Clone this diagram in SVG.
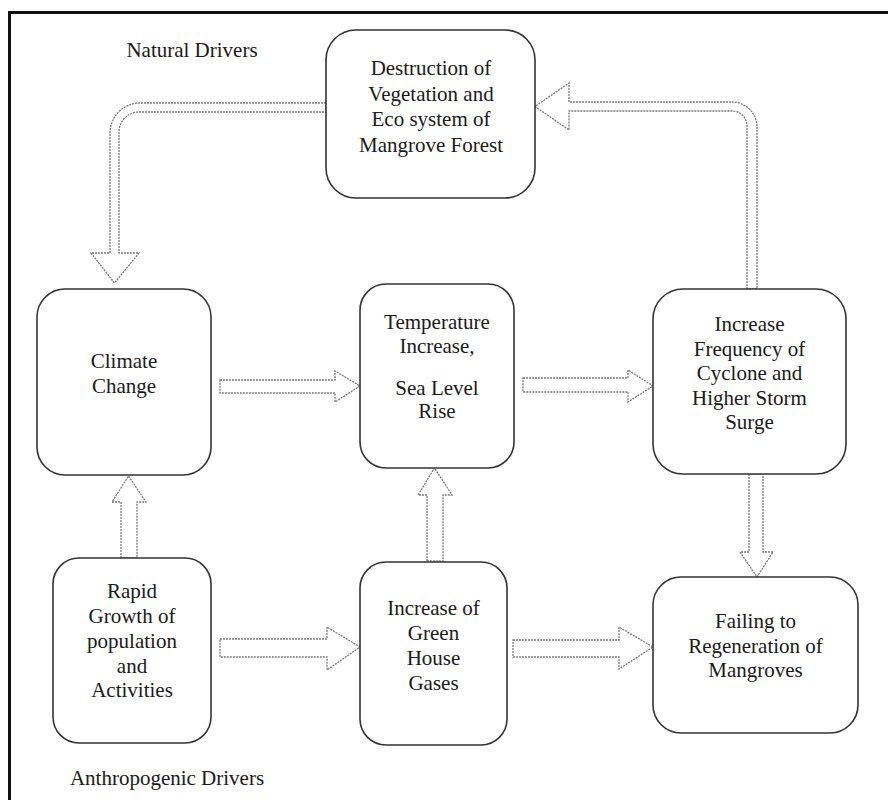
<svg xmlns="http://www.w3.org/2000/svg" width="888" height="800" viewBox="0 0 888 800">
<style>
.box{fill:#fff;stroke:#333;stroke-width:1.6}
.arr{fill:#fff;stroke:#7a7a7a;stroke-width:1.3;stroke-dasharray:2 1}
text{font-family:"Liberation Serif","Times New Roman",serif;font-size:21px;fill:#1a1a1a;text-anchor:middle}
</style>
<rect x="0" y="0" width="888" height="800" fill="#fff"/>
<rect x="9.5" y="12.5" width="900" height="810" fill="none" stroke="#111" stroke-width="3"/>
<text x="192" y="57">Natural Drivers</text>
<text x="167" y="785">Anthropogenic Drivers</text>
<g id="connectors">
<path class="arr" d="M326,103 H140 A30,30 0 0 0 110,133 V253 H91 L114.5,283 L139,253 H119 V132 A20,20 0 0 1 139,112 H326 Z"/>
<path class="arr" d="M747,289 V126 A15,15 0 0 0 732,111 H569 V130 L535,106.5 L569,83 V102 H732 A25,25 0 0 1 757,127 V289 Z"/>
<path class="arr" d="M220,380 H335 V371 L360,386 L335,402 V393 H220 Z"/>
<path class="arr" d="M523,378 H628 V370 L653,386 L628,402 V392 H523 Z"/>
<path class="arr" d="M121,558 V502 H112 L128.5,476 L146,502 H137 V558 Z"/>
<path class="arr" d="M427,561 V495 H418 L434.5,468 L452,495 H443 V561 Z"/>
<path class="arr" d="M749,474 V552 H740 L757,577 L773,552 H763 V474 Z"/>
<path class="arr" d="M220,639 H327 V627 L360,647 L327,670 V657 H220 Z"/>
<path class="arr" d="M513,640 H619 V627 L653,647 L619,669 V657 H513 Z"/>
</g>
<g id="n-destruction">
<rect class="box" x="326" y="30" width="209" height="168" rx="30"/>
<text x="431" y="75">Destruction of</text>
<text x="431" y="100.5">Vegetation and</text>
<text x="431" y="126">Eco system of</text>
<text x="431" y="151.5">Mangrove Forest</text>
</g>
<g id="n-climate">
<rect class="box" x="37" y="289" width="174" height="186" rx="28"/>
<text x="124" y="368">Climate</text>
<text x="124" y="393">Change</text>
</g>
<g id="n-temperature">
<rect class="box" x="360" y="284" width="154" height="184" rx="26"/>
<text x="437" y="329">Temperature</text>
<text x="437" y="353">Increase,</text>
<text x="437" y="395">Sea Level</text>
<text x="437" y="418">Rise</text>
</g>
<g id="n-cyclone">
<rect class="box" x="653" y="289" width="193" height="185" rx="30"/>
<text x="749.5" y="331">Increase</text>
<text x="749.5" y="355.5">Frequency of</text>
<text x="749.5" y="380">Cyclone and</text>
<text x="749.5" y="404.5">Higher Storm</text>
<text x="749.5" y="429">Surge</text>
</g>
<g id="n-rapid">
<rect class="box" x="53" y="558" width="158" height="185" rx="26"/>
<text x="132" y="598">Rapid</text>
<text x="132" y="623">Growth of</text>
<text x="132" y="648">population</text>
<text x="132" y="673">and</text>
<text x="132" y="697">Activities</text>
</g>
<g id="n-ghg">
<rect class="box" x="360" y="562" width="147" height="183" rx="26"/>
<text x="433.5" y="615">Increase of</text>
<text x="433.5" y="640">Green</text>
<text x="433.5" y="665">House</text>
<text x="433.5" y="690">Gases</text>
</g>
<g id="n-failing">
<rect class="box" x="653" y="577" width="205" height="156" rx="28"/>
<text x="755.5" y="628">Failing to</text>
<text x="755.5" y="653">Regeneration of</text>
<text x="755.5" y="677">Mangroves</text>
</g>
</svg>
